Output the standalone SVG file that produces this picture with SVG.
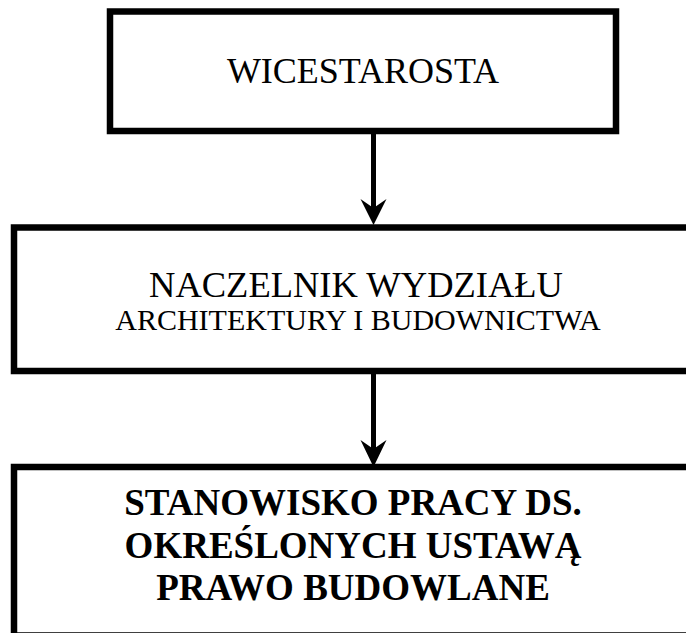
<svg xmlns="http://www.w3.org/2000/svg" width="686" height="633" viewBox="0 0 686 633">
  <style>
    .box { fill: #ffffff; stroke: #000000; stroke-width: 6.5; }
    .t { font-family: "Liberation Serif", "Times New Roman", serif; fill: #000000; text-anchor: middle; }
    .b { font-weight: bold; }
    .link { stroke: #000000; stroke-width: 5; fill: none; }
    .head { fill: #000000; stroke: none; }
  </style>
  <rect width="686" height="633" fill="#ffffff"/>

  <g id="wicestarosta">
    <rect class="box" x="110" y="11.5" width="506" height="119.5"/>
    <text class="t" x="363" y="83" font-size="36">WICESTAROSTA</text>
  </g>

  <g id="naczelnik">
    <rect class="box" x="14" y="227.5" width="680" height="143.5"/>
    <text class="t" x="356" y="297" font-size="36.5">NACZELNIK WYDZIAŁU</text>
    <text class="t" x="358" y="330" font-size="30">ARCHITEKTURY I BUDOWNICTWA</text>
  </g>

  <g id="stanowisko">
    <rect class="box" x="14" y="467" width="680" height="168.5"/>
    <text class="t b" x="353" y="515" font-size="37">STANOWISKO PRACY DS.</text>
    <text class="t b" x="353" y="557.5" font-size="37">OKREŚLONYCH USTAWĄ</text>
    <text class="t b" x="353" y="600" font-size="37">PRAWO BUDOWLANE</text>
  </g>

  <g id="connectors">
    <line class="link" x1="373.5" y1="134" x2="373.5" y2="212"/>
    <polygon class="head" points="373.5,225 386.5,199 373.5,208 360.5,199"/>
    <line class="link" x1="373.5" y1="374" x2="373.5" y2="454"/>
    <polygon class="head" points="373.5,467 386.5,440 373.5,449 360.5,440"/>
  </g>
</svg>
